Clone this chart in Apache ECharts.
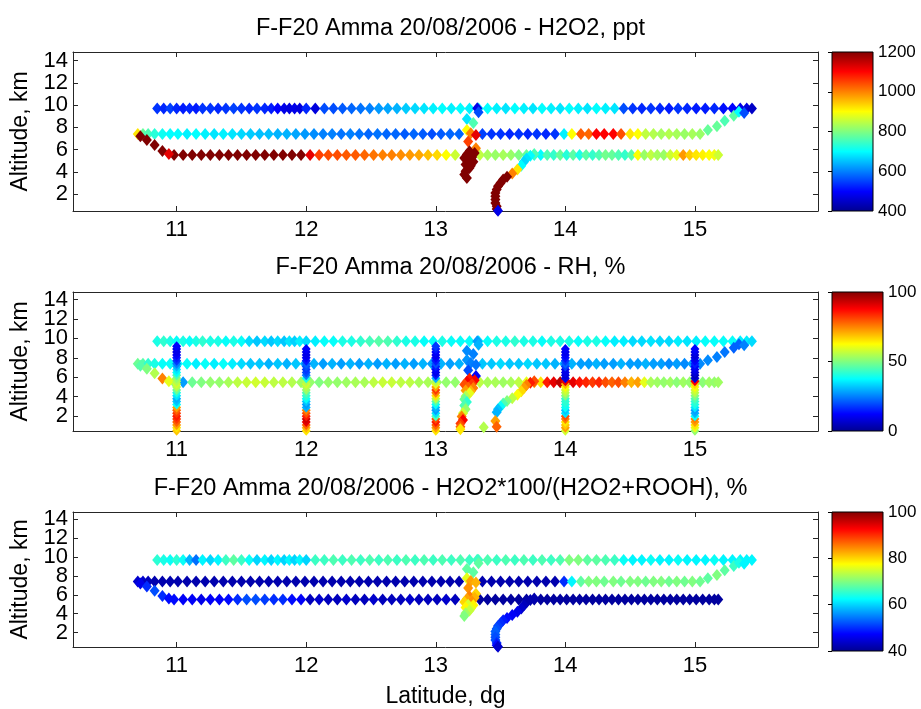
<!DOCTYPE html>
<html><head><meta charset="utf-8">
<script src="https://cdn.jsdelivr.net/npm/echarts@6/dist/echarts.min.js"></script>
<style>html,body{margin:0;padding:0;background:#fff}#c{width:921px;height:709px}</style>
</head><body><div id="c"></div>
<script>
// ---------------- DATA ----------------
// Titles / labels
const titles = [
  'F-F20 Amma 20/08/2006 - H2O2, ppt',
  'F-F20 Amma 20/08/2006 - RH, %',
  'F-F20 Amma 20/08/2006 - H2O2*100/(H2O2+ROOH), %'
];
const yName = 'Altitude, km';
const xName = 'Latitude, dg';
// colour scale ranges [min, max, step]
const scaleH2O2 = [400, 1200, 200];
const scaleRH = [0, 100, 50];
const scaleRatio = [40, 100, 20];

// Track A : level run at ~9.7 km
const altA = 9.7;
const latA = [10.85,10.9,10.95,11.0,11.05,11.1,11.15,11.2,11.26,11.32,11.38,11.44,11.5,11.56,11.62,11.68,11.73,11.78,11.83,11.87,11.91,11.95,12.0,
  12.07,12.14,12.21,12.28,12.35,12.42,12.49,12.56,12.63,12.7,12.77,12.84,12.91,12.98,13.05,13.12,13.19,13.26,
  13.33,13.4,13.47,13.54,13.61,13.68,13.75,13.82,13.89,13.96,14.03,14.1,14.17,14.24,14.31,14.38,14.45,14.52,14.59,14.66,14.73,14.8,14.87,14.94,15.01,15.08,15.15,15.22,15.29,15.35,15.4,15.44];
const h2o2A = [540,530,550,530,520,530,520,540, 540,530,540,550,540,530,540,530, 520,500,480,470,480,470,530,
  470,560,560,570,580,590,600, 620,630,640,660,670,680,690, 700,690,700,690,
  680,700,690,680,700,690,680,700,690,680, 700,690,680,700,690,680, 560,
  540,530,540,530,520,540,530,520, 520,530,510,500,480,470,450];
const rhA = [40,42,40,38,40,38,40,42, 40,40,38,40,38,34,32,34, 32,34,32,35,33,36,34,
  36,38,38,40,40,42,44, 46,45,42,40,40,38,38, 40,38,38,38,
  35,38,40,40,42,40,40,38,40,40, 40,38,40,40,38,36,
  36,34,34,35,34,34,36,35,36, 38,38,38,38,36,36,34];
const ratioA = [65,64,63,65,63,58,54,62, 60,62,66,68,66,63,60,62, 60,62,60,62,60,62,60,
  66,66,67,66,67,66,67, 66,67,66,67,66,67,66, 67,66,67,66,
  66,67,66,67,66,67,66,67,66,67, 70,70,68,68,67,66,
  63,62,62,63,62,62,63,62,62, 62,63,62,62,62,62,62];

// Track B : level run at ~7.4 km
const altB = 7.4;
const latB = [10.7,10.74,10.78,10.83,10.89,10.95,11.01,11.08,11.15,11.22,11.29,11.36,11.43,11.5,11.57,11.64,11.71,11.78,11.85,11.92,11.99,
  12.06,12.13,12.2,12.27,12.34,12.41,12.48,12.55,12.62,12.69,12.76,12.83,12.9,12.97,13.04,13.11,13.18,
  13.36,13.43,13.5,13.57,13.64,13.71,13.78,13.85,13.92,13.99,14.05,14.12,14.18,14.24,14.3,14.37,14.43,14.5,14.56,14.62,14.68,14.74,14.8,14.86,14.92,14.98,15.04];
const h2o2B = [920,780,760,730,710,700, 700,690,700,690,680,690,680,670, 660,650,650,640,640,630,620,
  610,600,600,590,600,590,580,590,580, 580,570,580,570,560,570,580,580,
  550,540,540,530,540,530,540,530,540, 690, 900,1030,1020,1100,1100,1100,1040,920,
  900,850,840,830,840,830,820,830,820];
const rhB = [48,46,42,40,38,38, 38,38,36,38,36,38,36,34, 32,32,30,32,30,32,30,
  30,28,30,28,30,28,30,28,30, 28,30,28,30,28,30,28,30,
  32,32,34,32,32,34,32,32,30, 30, 30,28,28,30,28,28,30,28,
  28,30,28,28,26,28,26,28,26];
const ratioB = [44,44,43,42,42,42, 42,42,42,42,42,42,42,42, 42,42,42,42,42,42,42,
  42,42,42,42,42,42,42,42,42, 42,42,42,42,42,42,42,42,
  42,42,42,42,42,42,42,42,42, 50, 62,68,70,70,69,70,69,70,
  70,69,70,70,69,70,69,70,69];

// Track C : level run at ~5.5 km
const altC = 5.5;
const latC = [10.98,11.05,11.12,11.19,11.26,11.33,11.4,11.47,11.54,11.61,11.68,11.75,11.82,11.89,11.96,
  12.03,12.1,12.17,12.24,12.31,12.38,12.45,12.52,12.59,12.66,12.73,12.8,12.87,12.94,13.01,13.08,13.15,
  13.34,13.4,13.46,13.52,13.58,13.64,13.7,13.76,13.81,13.86,13.91,13.96,14.01,14.06,14.11,14.16,14.21,14.26,14.31,14.36,14.41,14.46,14.51,
  14.56,14.61,14.66,14.71,14.76,14.81,14.86,14.91,14.96,15.01,15.06,15.11,15.15,15.18];
const h2o2C = [1200,1200,1200,1200,1200,1200,1200,1200,1200,1200,1200,1200,1200,1200,1200,
  1120, 1050,1040,1040,1030,1030,1020, 1010,1000,1000,990,980,970, 950,930,900,860,
  850,830,820,830,820,800,780,
  720,700,760,740,780,730,770,720,770,740,760,790,780,760,740,770,
  900, 820,850,830,820,860,880, 980, 940,920,910,900,890,860];
const rhC = [52,28,48,50,52,52,54,56,57,58,57,56,56,55,53,
  52,50,52,52,53,54,54,56,57,57,56,56,54,54,52,52,52,
  56,54,54,53,54,56,60,
  72,65,85,90,94,92,90,86,84,82,84,80,78,80,75,70,
  72, 60,54,53,52,53,51,53,52,50,51,53,52,53];
const ratioC = [48,47,47,46,47,47,48,50,52,52,51,50,50,48,47,
  43,44,43,43,44,43,43,44,43,43,43,44,43,43,43,44,43,
  41,41,41,41,41,41,41,41,41,41,41,41,41,41,41,41,41,41,41,41,41,41,41,
  41,41,41,41,41,41,41,41,41,41,41,41,41,41];

// Descent near 10.7-10.95 from 7.4 km to 5.5 km
const latD1 = [10.72,10.77,10.83,10.89,10.94];
const altD1 = [7.2,6.87,6.42,5.88,5.6];
const h2o2D1 = [1200,1200,1200,1200,1120];
const rhD1 = [46,50,55,75,60];
const ratioD1 = [46,50,52,50,48];

// Climb near 15.1-15.4 from 7.4 km to 9.7 km
const latR = [15.1,15.17,15.23,15.3,15.34,15.38];
const altR = [7.75,8.1,8.6,9.05,9.4,9.3];
const h2o2R = [780,780,760,770,700,560];
const rhR = [26,25,24,22,22,25];
const ratioR = [68,70,68,66,64,62];

// Spiral descent near 13.2-13.3
const latS = [13.32,13.33,13.24,13.29,13.24,13.27,13.31,13.25,13.31,13.26,13.3,13.24,13.28,13.22,13.25,13.29,13.23,13.27,13.26,13.23,13.22,13.24,13.22,13.23,13.21,13.2,13.21,13.19,13.19,13.19];
const altS = [9.72,9.35,8.74,8.4,7.77,7.47,7.3,6.72,6.12,5.85,5.7,5.55,5.3,5.25,4.95,4.9,4.65,4.55,4.35,4.05,3.75,3.45,3.1,2.7,2.3,1.95,1.6,1.25,0.9,0.65];
const h2o2S = [480,560,680,760,900,1000,1120,1050,1000,1200,1200,1200,1200,1200,1200,1200,1200,1200,1200,1200,1200,1200,null,null,null,null,null,null,null,null];
const rhS = [28,30,26,25,27,25,24,20,12,85,88,88,82,80,78,75,72,70,60,55,48,42,45,52,58,75,88,82,78,65];
const ratioS = [66,68,68,68,76,83,82,84,80,85,82,83,84,80,75,78,78,76,74,72,70,null,null,null,null,null,null,null,null,null];

// Descent to the ground near 13.5
const latG = [13.76,13.73,13.7,13.68,13.66,13.63,13.59,13.55,13.52,13.5,13.48,13.47,13.46,13.46,13.46,13.46,13.47,13.47,13.48];
const altG = [5.6,5.45,5.2,4.9,4.55,4.2,3.85,3.55,3.3,3.0,2.7,2.4,2.1,1.8,1.5,1.2,0.9,0.65,0.5];
const h2o2G = [760,700,680,670,700,920,1000,1200,1200,1200,1200,1200,1200,1200,1200,1200,1200,1200,480];
const rhG = [80,85,75,72,66,62,56,50,45,38,32,30,null,null,72,null,78,null,null];
const ratioG = [42,42,42,43,44,46,47,48,49,50,51,52,53,53,52,52,50,48,44];

// Extra RH point near the ground
const latX = [13.37];
const altX = [0.86];
const rhX = [55];

// RH vertical profiles (panel 2)
const sondeAlt = [0.5,0.8,1.1,1.4,1.7,2.0,2.3,2.6,2.9,3.2,3.5,3.8,4.1,4.4,4.7,5.0,5.3,5.6,5.9,6.2,6.5,6.8,7.1,7.4,7.7,8.0,8.3,8.6,8.9,9.2];
const rhSonde11 = [68,65,72,78,82,85,82,78,72,38,32,30,35,40,48,55,58,55,52,45,38,35,30,25,18,15,12,10,10,12];
const rhSonde12 = [65,70,78,90,92,85,80,75,30,28,32,38,42,45,52,55,58,55,40,25,20,18,20,22,15,12,10,10,12,null];
const rhSonde13 = [65,72,78,85,80,45,35,28,30,38,45,55,65,75,82,72,60,55,30,15,10,12,15,20,15,12,10,12,15,18];
const rhSonde14 = [58,72,68,65,75,80,35,32,38,40,42,42,50,55,58,62,70,90,10,8,10,10,18,22,18,14,12,10,12,null];
const rhSonde15 = [52,60,65,72,75,38,30,28,35,40,42,45,50,55,58,62,66,88,8,5,8,10,12,15,12,10,8,10,12,null];
const sondeLat = [11, 12, 13, 14, 15];

// ---------------- BUILD ----------------
const FONT = 'Liberation Sans, Arial, Helvetica, sans-serif';
const JET = ['#00008F','#0000FF','#0080FF','#00FFFF','#80FF80','#FFFF00','#FF8000','#FF0000','#800000'];
const AX = '#262626';

function seg(lat, alt, val) {
  const out = [];
  for (let i = 0; i < lat.length; i++) {
    const a = Array.isArray(alt) ? alt[i] : alt;
    if (val[i] != null) out.push([lat[i], a, val[i]]);
  }
  return out;
}
function track(vA, vB, vR, vC, vD1, vG, vS) {
  return [].concat(seg(latA, altA, vA), seg(latB, altB, vB), seg(latR, altR, vR),
    seg(latC, altC, vC), seg(latD1, altD1, vD1), seg(latG, altG, vG), seg(latS, altS, vS));
}
const data1 = track(h2o2A, h2o2B, h2o2R, h2o2C, h2o2D1, h2o2G, h2o2S);
const data2 = track(rhA, rhB, rhR, rhC, rhD1, rhG, rhS).concat(seg(latX, altX, rhX));
const sondeVals = [rhSonde11, rhSonde12, rhSonde13, rhSonde14, rhSonde15];
let data2s = [];
sondeLat.forEach((la, k) => {
  data2s = data2s.concat(seg(sondeAlt.map(() => la), sondeAlt, sondeVals[k]));
});
const data3 = track(ratioA, ratioB, ratioR, ratioC, ratioD1, ratioG, ratioS);

const layout = [
  {top: 52, height: 159, cbW: 41, titleTop: 12},
  {top: 292, height: 139, cbW: 51, titleTop: 251},
  {top: 512, height: 139, cbW: 51, titleTop: 472}
];
const scales = [scaleH2O2, scaleRH, scaleRatio];
const XMIN = 10.2, XMAX = 15.95, YMIN = 0.47, YMAX = 14.78;

const grid = [], xAxis = [], yAxis = [], title = [];
layout.forEach((L, i) => {
  grid.push({left: 73, top: L.top, width: 745, height: L.height, containLabel: false});
  title.push({text: titles[i], left: 445.5, top: L.titleTop, textAlign: 'center',
    textStyle: {fontFamily: FONT, fontSize: 23.5, fontWeight: 'normal', color: '#000'}});
});
layout.forEach((L, i) => {
  const tickS = {show: true, inside: true, length: 5, lineStyle: {color: AX, width: 1}};
  const lineS = {show: true, onZero: false, lineStyle: {color: AX, width: 1}};
  xAxis.push({gridIndex: i, type: 'value', position: 'bottom', min: XMIN, max: XMAX, splitNumber: 5,
    axisLine: lineS, axisTick: tickS, splitLine: {show: false},
    axisLabel: {fontFamily: FONT, fontSize: 22, color: '#000', margin: 8, showMinLabel: false, showMaxLabel: false},
    name: i === 2 ? xName : '', nameLocation: 'middle', nameGap: 38,
    nameTextStyle: {fontFamily: FONT, fontSize: 23, color: '#000'}});
  xAxis.push({gridIndex: i, type: 'value', position: 'top', min: XMIN, max: XMAX, splitNumber: 5,
    axisLine: lineS, axisTick: tickS, splitLine: {show: false}, axisLabel: {show: false}});
  yAxis.push({gridIndex: i, type: 'value', position: 'left', min: YMIN, max: YMAX, splitNumber: 7,
    axisLine: lineS, axisTick: tickS, splitLine: {show: false},
    axisLabel: {fontFamily: FONT, fontSize: 22, color: '#000', margin: 5, showMinLabel: false, showMaxLabel: false},
    name: yName, nameLocation: 'middle', nameGap: 37,
    nameTextStyle: {fontFamily: FONT, fontSize: 23, color: '#000'}});
  yAxis.push({gridIndex: i, type: 'value', position: 'right', min: YMIN, max: YMAX, splitNumber: 7,
    axisLine: lineS, axisTick: tickS, splitLine: {show: false}, axisLabel: {show: false}});
});
// colour bars
layout.forEach((L, i) => {
  const gi = grid.length;
  grid.push({left: 832, top: L.top, width: L.cbW, height: L.height, show: true,
    borderColor: '#000', borderWidth: 1,
    backgroundColor: new echarts.graphic.LinearGradient(0, 1, 0, 0,
      JET.map((c, k) => ({offset: k / (JET.length - 1), color: c})))});
  xAxis.push({gridIndex: gi, type: 'value', show: false, min: 0, max: 1});
  yAxis.push({gridIndex: gi, type: 'value', position: 'right', min: scales[i][0], max: scales[i][1], interval: scales[i][2],
    axisLine: {show: false}, splitLine: {show: false},
    axisTick: {show: true, inside: true, length: 4, lineStyle: {color: '#000'}},
    axisLabel: {fontFamily: FONT, fontSize: 17, color: '#000', margin: 5, formatter: v => String(v)}});
});

function sc(xi, yi, d, size) {
  return {type: 'scatter', xAxisIndex: xi, yAxisIndex: yi, data: d, symbol: 'diamond', symbolSize: size,
    itemStyle: {opacity: 1}, silent: true, animation: false, emphasis: {disabled: true}};
}
const series = [
  sc(0, 0, data1, [10, 12]),
  sc(2, 2, data2, [10, 12]),
  sc(2, 2, data2s, [9, 10]),
  sc(4, 4, data3, [10, 12])
];
const visualMap = [
  {type: 'continuous', show: false, seriesIndex: [0], dimension: 2, min: scaleH2O2[0], max: scaleH2O2[1], inRange: {color: JET}},
  {type: 'continuous', show: false, seriesIndex: [1, 2], dimension: 2, min: scaleRH[0], max: scaleRH[1], inRange: {color: JET}},
  {type: 'continuous', show: false, seriesIndex: [3], dimension: 2, min: scaleRatio[0], max: scaleRatio[1], inRange: {color: JET}}
];

const chart = echarts.init(document.getElementById('c'), null, {renderer: 'canvas'});
chart.setOption({backgroundColor: '#fff', animation: false, title, grid, xAxis, yAxis, visualMap, series});
</script></body></html>
